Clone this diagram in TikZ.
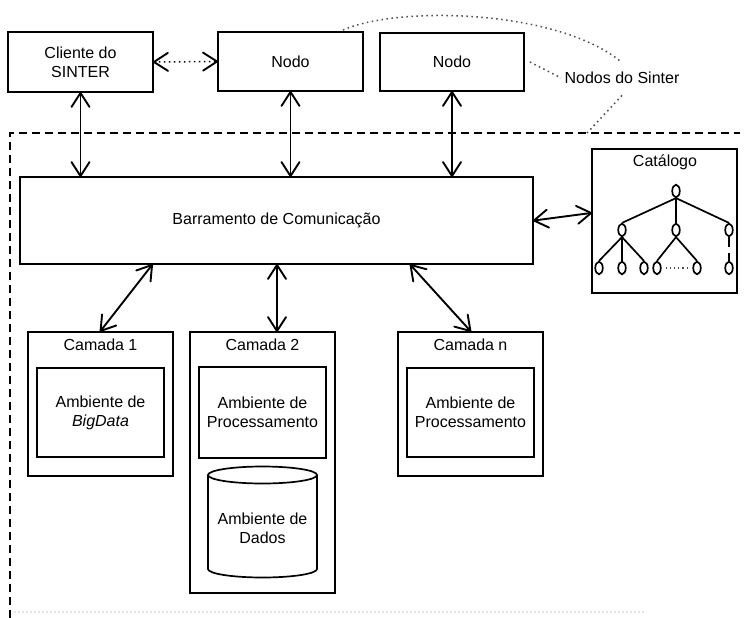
\documentclass[tikz,border=0pt]{standalone}
\usepackage{fontspec}
\setmainfont{Liberation Sans}
\usetikzlibrary{shapes.geometric,decorations.markings}
\begin{document}
\begin{tikzpicture}[x=1pt,y=-1pt,
  every node/.style={font=\fontsize{16}{19}\selectfont, align=center},
  box/.style={draw, line width=1.9pt, inner sep=0pt},
  vtip/.style={draw, solid, line width=1.9pt, line cap=round, line join=round},
  twoheads/.style={postaction={decorate}, decoration={markings,
      mark=at position 0 with {\draw[vtip] (14pt,9pt) -- (0pt,0pt) -- (14pt,-9pt);},
      mark=at position 1 with {\draw[vtip] (-14pt,9pt) -- (0pt,0pt) -- (-14pt,-9pt);}}},
  conn/.style={line width=1.9pt, twoheads},
  dots/.style={line width=1.5pt, dash pattern=on 1.5pt off 3.5pt, black!70},
  dashbox/.style={line width=1.9pt, dash pattern=on 8pt off 5pt},
  leaf/.style={draw, ellipse, line width=1.7pt, minimum width=7.5pt, minimum height=12.5pt, inner sep=0pt},
  treeline/.style={line width=1.7pt}
]
\fill[white] (0,0) rectangle (744,618);
\useasboundingbox (0,0) rectangle (744,618);

% top row
\node[box, minimum width=145pt, minimum height=60pt] (cli) at (80.5,62) {Cliente do\\SINTER};
\node[box, minimum width=145pt, minimum height=59pt] (n1) at (290.5,61.5) {Nodo};
\node[box, minimum width=144pt, minimum height=58pt] (n2) at (452,62) {Nodo};
\node (lbl) at (622,78) {Nodos do Sinter};

% bus and catalog
\node[box, minimum width=513pt, minimum height=87pt] (bus) at (276.5,220.5) {Barramento de Comunica\c{c}\~ao};
\node[box, minimum width=145pt, minimum height=144pt] (cat) at (664.5,221) {};
\node at (665,162) {Cat\'alogo};

% layers
\node[box, minimum width=145pt, minimum height=144pt] (c1) at (100.5,404) {};
\node at (100.5,345) {Camada 1};
\node[box, minimum width=127pt, minimum height=89pt] (a1) at (100.5,412.5) {Ambiente de\\\textit{BigData}};

\node[box, minimum width=145pt, minimum height=261pt] (c2) at (262.5,462.5) {};
\node at (262.5,345) {Camada 2};
\node[box, minimum width=127pt, minimum height=91pt] (a2) at (262.5,412.5) {Ambiente de\\Processamento};
\draw[line width=1.7pt] (208,475) -- (208,569) arc[start angle=180,end angle=360,x radius=54.5pt,y radius=8.5pt] -- (317,475);
\draw[line width=1.7pt] (262.5,475) ellipse [x radius=54.5pt, y radius=8.5pt];
\node (cyl) at (262.5,528) {Ambiente de\\Dados};

\node[box, minimum width=145pt, minimum height=144pt] (cn) at (470.5,404) {};
\node at (470.5,345) {Camada n};
\node[box, minimum width=127pt, minimum height=89pt] (an) at (470.5,412.5) {Ambiente de\\Processamento};

% dashed region
\draw[dashbox] (10,618) -- (10,133) -- (740,133);
\draw[gray!20, line width=1.5pt, dash pattern=on 2pt off 2pt] (14,612) -- (645,612);

% connectors
\draw[line width=1.5pt, dash pattern=on 1.5pt off 3.5pt, twoheads] (cli.east) -- (n1.west);
\draw[conn] (cli.south) -- (cli.south |- bus.north);
\draw[conn] (n1.south) -- (n1.south |- bus.north);
\draw[conn] (n2.south) -- (n2.south |- bus.north);
\draw[conn] (bus.east) -- ([yshift=8pt]cat.west);
\draw[conn] ([xshift=133pt]bus.south west) -- (c1.north);
\coordinate (c2top) at ([xshift=14.5pt]c2.north);
\draw[conn] (c2top |- bus.south) -- (c2top);
\coordinate (cntop) at ([xshift=-60pt]cn.north);
\draw[conn] (cntop |- bus.south) -- (cn.north);

% group annotation
\coordinate (arcstart) at (343,30);
\coordinate (grp) at (587,133);
\draw[dots] (arcstart) .. controls (400,5) and (560,10) .. ([yshift=6pt]lbl.north);
\draw[dots] ([xshift=5pt]n2.east) -- (lbl.west);
\draw[dots] ([yshift=-8pt]lbl.south) -- (grp);

% catalog tree
\node[leaf] (r) at (676,191) {};
\node[leaf] (m1) at (622,230) {};
\node[leaf] (m2) at (676,230) {};
\node[leaf] (m3) at (729,230) {};
\node[leaf] (l1) at (599,268) {};
\node[leaf] (l2) at (622,268) {};
\node[leaf] (l3) at (644,268) {};
\node[leaf] (l4) at (657,268) {};
\node[leaf] (l5) at (697,268) {};
\node[leaf] (l6) at (729,268) {};
\draw[treeline] (r.south) -- (m1.north);
\draw[treeline] (r.south) -- (m2.north);
\draw[treeline] (r.south) -- (m3.north);
\draw[treeline] (m1.south) -- (l1.north);
\draw[treeline] (m1.south) -- (l2.north);
\draw[treeline] (m1.south) -- (l3.north);
\draw[treeline] (m2.south) -- (l4.north);
\draw[treeline] (m2.south) -- (l5.north);
\draw[treeline] (m3.south) -- ++(0,10);
\draw[treeline] (l6.north) -- ++(0,-8);
\draw[line width=1.2pt, dash pattern=on 1.2pt off 3pt, black!70] ([xshift=4pt]l4.east) -- ([xshift=-3pt]l5.west);
\end{tikzpicture}
\end{document}
